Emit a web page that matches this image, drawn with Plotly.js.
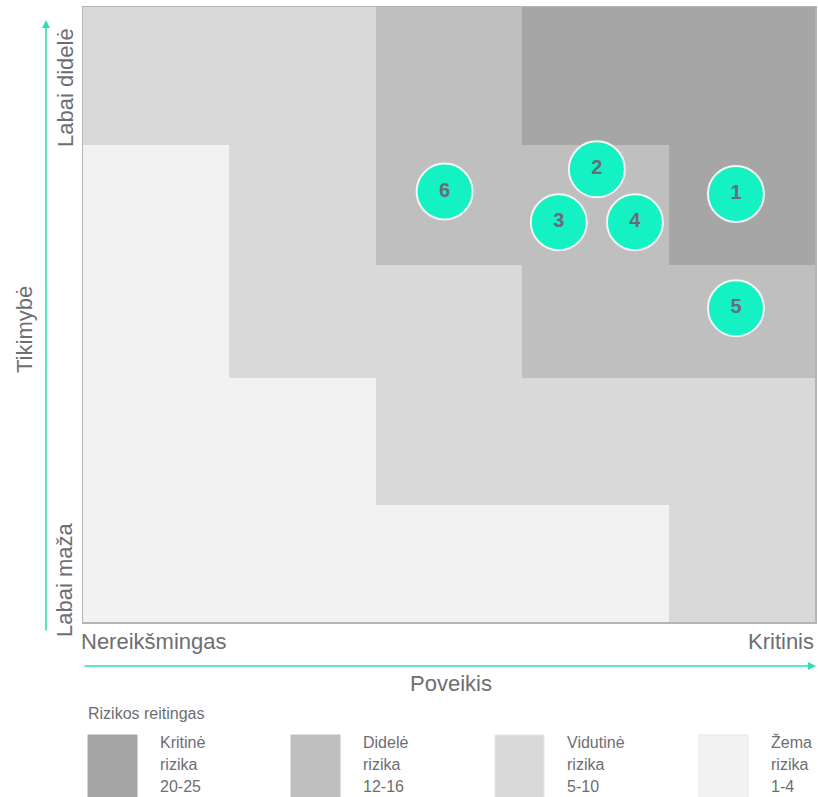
<!DOCTYPE html>
<html>
<head>
<meta charset="utf-8">
<script src="https://cdn.plot.ly/plotly-3.0.1.min.js"></script>
<style>html,body{margin:0;padding:0;background:#fff;}#chart{width:818px;height:797px;}</style>
</head>
<body>
<div id="chart"></div>
<script>
// Risk matrix cells (rows bottom -> top, columns left -> right); 1=Žema, 2=Vidutinė, 3=Didelė, 4=Kritinė
var impactEdges = [0, 1, 2, 3, 4, 5];
var likelihoodEdges = [0, 0.95, 1.98, 2.9, 3.88, 5];
var riskLevels = [
  [1, 1, 1, 1, 2],
  [1, 1, 2, 2, 2],
  [1, 2, 2, 3, 3],
  [1, 2, 3, 3, 4],
  [2, 2, 3, 4, 4]
];
// Risks plotted
var riskIds = ['1', '2', '3', '4', '5', '6'];
var riskImpact = [4.46, 3.51, 3.25, 3.77, 4.46, 2.47];
var riskLikelihood = [3.48, 3.68, 3.25, 3.25, 2.55, 3.50];
// Legend
var legendTitle = 'Rizikos reitingas';
var legendNames = ['Kritinė', 'Didelė', 'Vidutinė', 'Žema'];
var legendWord = ['rizika', 'rizika', 'rizika', 'rizika'];
var legendRanges = ['20-25', '12-16', '5-10', '1-4'];
var levelColors = ['#a6a6a6', '#bfbfbf', '#d9d9d9', '#f2f2f2'];
// Axis texts
var yLabelHigh = 'Labai didelė';
var yLabelLow = 'Labai maža';
var yTitle = 'Tikimybė';
var xLabelLow = 'Nereikšmingas';
var xLabelHigh = 'Kritinis';
var xTitle = 'Poveikis';

var txtColor = '#6d6e72';
var teal = '#14f2c4';
var arrowTeal = '#2fdcb5';
var FONT = 'Liberation Sans, Arial, sans-serif';

var heat = {
  type: 'heatmap',
  x: impactEdges,
  y: likelihoodEdges,
  z: riskLevels,
  zmin: 0.5, zmax: 4.5,
  colorscale: [[0, '#f2f2f2'], [0.25, '#f2f2f2'], [0.25, '#d9d9d9'], [0.5, '#d9d9d9'],
               [0.5, '#bfbfbf'], [0.75, '#bfbfbf'], [0.75, '#a6a6a6'], [1, '#a6a6a6']],
  showscale: false,
  hoverinfo: 'skip'
};

var pts = {
  type: 'scatter',
  mode: 'markers+text',
  x: riskImpact,
  y: riskLikelihood,
  text: riskIds,
  textposition: 'middle center',
  textfont: {family: FONT, size: 20, color: '#6b6b78', weight: 'bold'},
  marker: {size: 56, color: teal, line: {color: '#f4f4f4', width: 2}},
  hoverinfo: 'skip',
  cliponaxis: false
};

// pixel helpers for paper coordinates
var L = 83, R = 815, T = 7, B = 622;
function px(x) { return (x - L) / (R - L); }
function py(y) { return (B - y) / (B - T); }

var ann = [];
function txt(t, x, y, opts) {
  var a = {text: t, x: px(x), y: py(y), xref: 'paper', yref: 'paper', showarrow: false,
           font: {family: FONT, size: 22, color: txtColor}, xanchor: 'center', yanchor: 'middle'};
  for (var k in opts) a[k] = opts[k];
  ann.push(a);
}
txt(yLabelHigh, 65, 88, {textangle: -90});
txt(yTitle, 25, 330, {textangle: -90});
txt(yLabelLow, 64, 580, {textangle: -90});
txt(xLabelLow, 79, 641, {xanchor: 'left'});
txt(xLabelHigh, 816, 641, {xanchor: 'right'});
txt(xTitle, 451, 683, {});
txt(legendTitle, 86, 713, {xanchor: 'left', font: {family: FONT, size: 16, color: txtColor}});

// arrows
ann.push({x: px(46), y: py(20), xref: 'paper', yref: 'paper', ax: 0, ay: 612, text: '',
          showarrow: true, arrowhead: 2, arrowsize: 1, arrowwidth: 1.6, arrowcolor: arrowTeal, standoff: 0, startstandoff: 0});
ann.push({x: px(816), y: py(666), xref: 'paper', yref: 'paper', ax: -733, ay: 0, text: '',
          showarrow: true, arrowhead: 2, arrowsize: 1, arrowwidth: 1.6, arrowcolor: arrowTeal, standoff: 0, startstandoff: 0});

var shapes = [];
var swX = [88, 291, 495, 699];
for (var i = 0; i < legendNames.length; i++) {
  shapes.push({type: 'rect', xref: 'paper', yref: 'paper', x0: px(swX[i]), x1: px(swX[i] + 49),
               y0: py(800), y1: py(735), fillcolor: levelColors[i],
               line: {color: i >= 2 ? '#e6e6e6' : levelColors[i], width: 1}, layer: 'above'});
  var lines = [legendNames[i], legendWord[i], legendRanges[i]];
  for (var j = 0; j < 3; j++) {
    txt(lines[j], swX[i] + 70, 742 + j * 22, {xanchor: 'left', font: {family: FONT, size: 16, color: txtColor}});
  }
}

var layout = {
  width: 818, height: 797,
  margin: {l: L, r: 818 - R, t: T, b: 797 - B, pad: 0},
  paper_bgcolor: '#ffffff', plot_bgcolor: '#ffffff',
  showlegend: false,
  xaxis: {range: [0, 5], showgrid: false, zeroline: false, showticklabels: false, ticks: '',
          showline: true, mirror: true, linecolor: '#b5b5b5', linewidth: 1.5, fixedrange: true},
  yaxis: {range: [0, 5], showgrid: false, zeroline: false, showticklabels: false, ticks: '',
          showline: true, mirror: true, linecolor: '#b5b5b5', linewidth: 1.5, fixedrange: true},
  annotations: ann,
  shapes: shapes
};

Plotly.newPlot('chart', [heat, pts], layout, {displayModeBar: false, staticPlot: true});
</script>
</body>
</html>
